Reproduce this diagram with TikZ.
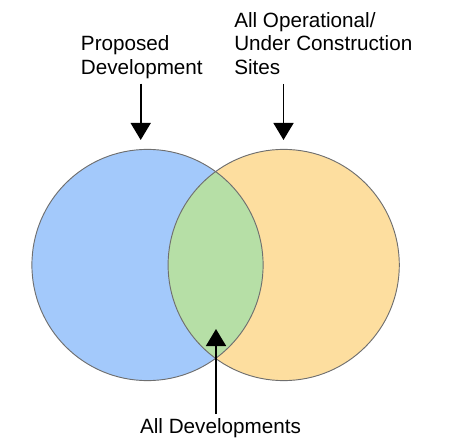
\documentclass[tikz,border=0pt]{standalone}
\usepackage{fontspec}
\setmainfont{Liberation Sans}
\usetikzlibrary{arrows.meta}
\definecolor{vennblue}{HTML}{A3C9FB}
\definecolor{vennorange}{HTML}{FDDE9F}
\definecolor{venngreen}{HTML}{B6DFA6}
\definecolor{vennedge}{HTML}{6F6F6F}
\tikzset{
  venn/.style={circle, minimum size=173.4pt, inner sep=0pt},
  labeltext/.style={font=\fontsize{15.5}{17.6}\selectfont, inner sep=0pt, align=left},
  pointer/.style={line width=1.2pt, -{Triangle[width=15pt,length=12.75pt]}}
}
\begin{document}
\begin{tikzpicture}[x=0.75pt, y=-0.75pt]
  \useasboundingbox (0,0) rectangle (449,441);
  % the two sets
  \node[venn, fill=vennblue] (prop) at (147.5,265) {};
  \node[venn, fill=vennorange] (sites) at (283.7,265) {};
  \begin{scope}
    \clip (prop.center) circle (86.7pt);
    \fill[venngreen] (sites.center) circle (86.7pt);
  \end{scope}
  \draw[vennedge, line width=0.7pt] (prop.center) circle (86.7pt);
  \draw[vennedge, line width=0.7pt] (sites.center) circle (86.7pt);

  % labels
  \node[labeltext, anchor=north west] (proptext) at (80.7,35.6) {Proposed\\Development};
  \node[labeltext, anchor=north west] (sitestext) at (234,12.2) {All Operational/\\Under Construction\\Sites};
  \node[labeltext, anchor=base] (alldev) at (220.5,433.3) {All Developments};

  % arrows
  \coordinate (proptip) at (140.7,140);
  \coordinate (sitestip) at (283.5,140);
  \coordinate (devtip) at (216,329);
  \draw[pointer, shorten <=3.5pt] (proptext.south -| proptip) -- (proptip);
  \draw[pointer, shorten <=6.75pt] (sitestext.south -| sitestip) -- (sitestip);
  \draw[pointer, shorten <=3pt] (alldev.north -| devtip) -- (devtip);
\end{tikzpicture}
\end{document}
